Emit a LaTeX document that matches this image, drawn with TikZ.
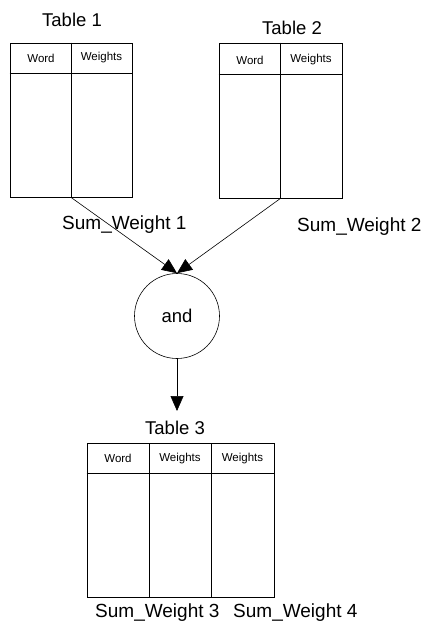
\documentclass[tikz,border=0pt]{standalone}
\usepackage{fontspec}
\setmainfont{Liberation Sans}
\usetikzlibrary{arrows.meta}

\tikzset{
  tbl/.style={draw, line width=0.8pt, rectangle, inner sep=0pt},
  rule/.style={line width=0.8pt},
  title/.style={inner sep=0pt, font=\fontsize{18.5}{22}\selectfont},
  sumlbl/.style={inner sep=0pt, anchor=west, font=\fontsize{19}{22}\selectfont},
  hdr/.style={inner sep=0pt, font=\fontsize{11.5}{14}\selectfont},
  link/.style={line width=0.6pt, -{Triangle[length=15pt,width=13pt]}},
  gate/.style={draw, circle, line width=0.6pt, minimum size=85pt, inner sep=0pt,
               font=\fontsize{18.5}{22}\selectfont}
}

\begin{document}
\begin{tikzpicture}[x=1pt,y=-1pt]
  \useasboundingbox (0,0) rectangle (424,636);

  % Table 1
  \node[title] (title1) at (72,20) {Table 1};
  \node[tbl, minimum width=122pt, minimum height=154pt] (t1) at (71,120) {};
  \draw[rule] ([yshift=-30.5pt]t1.north west) -- ([yshift=-30.5pt]t1.north east);
  \draw[rule] (t1.north) -- (t1.south);
  \node[hdr] (t1w) at (41,58) {Word};
  \node[hdr] (t1g) at (101.5,58) {Weights};

  % Table 2
  \node[title] (title2) at (292,28) {Table 2};
  \node[tbl, minimum width=123pt, minimum height=155pt] (t2) at (280.5,120.5) {};
  \draw[rule] ([yshift=-32pt]t2.north west) -- ([yshift=-32pt]t2.north east);
  \draw[rule] (t2.north) -- (t2.south);
  \node[hdr] (t2w) at (250,60) {Word};
  \node[hdr] (t2g) at (311,60) {Weights};

  % Sum labels above the join
  \node[sumlbl] (s1) at (62,225) {Sum\_Weight 1};
  \node[sumlbl] (s2) at (297,227) {Sum\_Weight 2};

  % Join
  \node[gate] (and) at (177,316) {and};
  \draw[link] (t1.south) -- (and.north);
  \draw[link] (t2.south) -- (and.north);

  % Table 3
  \coordinate (t3in) at (177,411);
  \draw[link] (and.south) -- (t3in);
  \node[title] (title3) at (175,428) {Table 3};
  \node[tbl, minimum width=187pt, minimum height=154pt] (t3) at (180.5,520) {};
  \draw[rule] ([yshift=-31pt]t3.north west) -- ([yshift=-31pt]t3.north east);
  \draw[rule] (149,443) -- (149,597);
  \draw[rule] (211,443) -- (211,597);
  \node[hdr] (t3w) at (118,458.5) {Word};
  \node[hdr] (t3g) at (180,458.5) {Weights};
  \node[hdr] (t3h) at (242.5,458.5) {Weights};

  % Sum labels below
  \node[sumlbl] (s3) at (95,613) {Sum\_Weight 3};
  \node[sumlbl] (s4) at (233,613) {Sum\_Weight 4};
\end{tikzpicture}
\end{document}
